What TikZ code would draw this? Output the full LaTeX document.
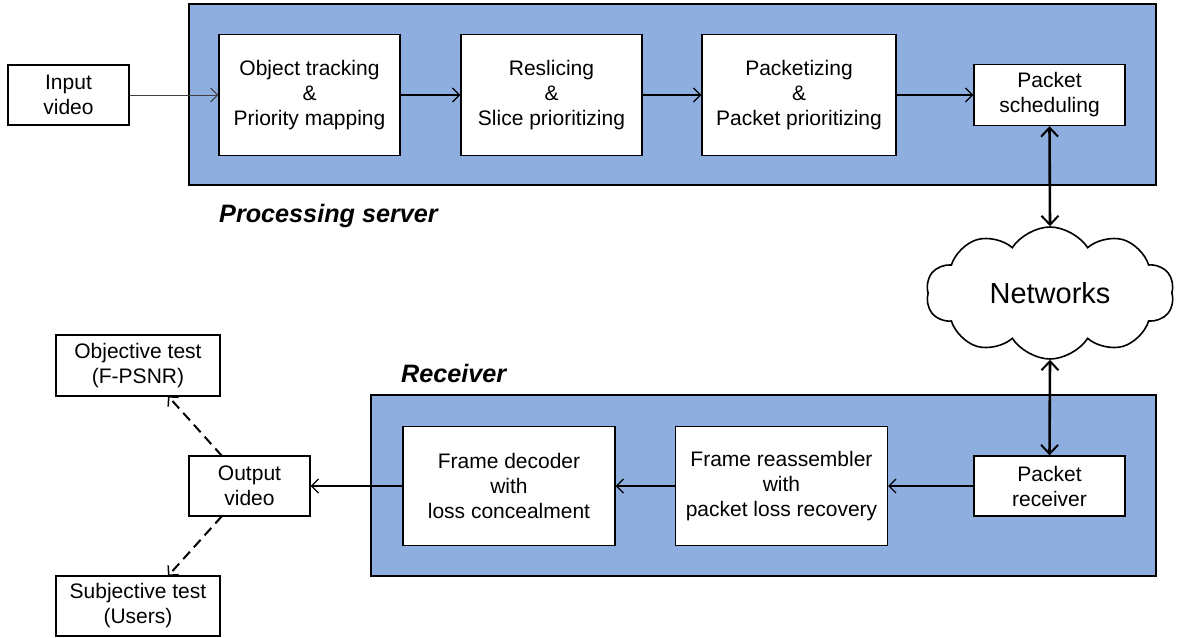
\documentclass[tikz,border=0pt]{standalone}
\usepackage{fontspec}
\setmainfont{Liberation Sans}
\usetikzlibrary{arrows.meta,shapes.symbols}
\definecolor{panelblue}{RGB}{141,174,222}
\begin{document}
\begin{tikzpicture}[x=1pt,y=-1pt,
  font=\fontsize{21}{25}\selectfont,
  panel/.style={draw=black,line width=1.4pt,fill=panelblue},
  blk/.style={draw=black,line width=1.4pt,fill=white,align=center,inner sep=0pt},
  flow/.style={line width=1.3pt,-{Straight Barb[length=7pt,width=14pt,line width=1.2pt]}},
  thinflow/.style={line width=0.8pt,draw=black!75,-{Straight Barb[length=7pt,width=14pt,line width=1pt]}},
  bidir/.style={line width=2.6pt,{Straight Barb[length=9pt,width=17pt,line width=2pt]}-{Straight Barb[length=9pt,width=17pt,line width=2pt]}},
  dflow/.style={line width=2pt,dash pattern=on 10pt off 6pt,-{Straight Barb[length=7pt,width=14pt,line width=1.5pt]}},
  lbl/.style={font=\fontsize{25.2}{29}\selectfont\bfseries\itshape,anchor=west,inner sep=0pt}
]
\useasboundingbox (0,0) rectangle (1191,637);
% panels
\draw[panel] (189,4) rectangle (1156,185);
\draw[panel] (371,395) rectangle (1156,576);
% top row
\node[blk,minimum width=121pt,minimum height=60pt] (in) at (68.5,95) {Input\\video};
\node[blk,minimum width=181pt,minimum height=121pt] (ot) at (309.5,95) {Object tracking\\\&\\Priority mapping};
\node[blk,minimum width=181pt,minimum height=121pt] (rs) at (551.5,95) {Reslicing\\\&\\Slice prioritizing};
\node[blk,minimum width=194pt,minimum height=121pt] (pk) at (799,95) {Packetizing\\\&\\Packet prioritizing};
\node[blk,minimum width=151pt,minimum height=61pt] (ps) at (1049.5,95) {Packet\\scheduling};
% cloud
\node[cloud,draw=black,line width=1.6pt,fill=white,cloud puffs=10,cloud puff arc=115,aspect=1.9,minimum width=248pt,minimum height=132pt,inner sep=0pt,font=\fontsize{29}{34}\selectfont] (net) at (1050,293) {Networks};
% receiver row
\node[blk,minimum width=151pt,minimum height=60pt] (pr) at (1049.5,486) {Packet\\receiver};
\node[blk,minimum width=212pt,minimum height=119pt] (fr) at (781.5,486) {Frame reassembler\\with\\packet loss recovery};
\node[blk,minimum width=212pt,minimum height=119pt] (fd) at (509,486) {Frame decoder\\with\\loss concealment};
\node[blk,minimum width=121pt,minimum height=60pt] (ov) at (249.5,486) {Output\\video};
\node[blk,minimum width=164pt,minimum height=61pt] (obj) at (138,365.5) {Objective test\\(F-PSNR)};
\node[blk,minimum width=164pt,minimum height=60pt] (sub) at (138,606) {Subjective test\\(Users)};
% labels
\node[lbl] (lps) at (219,216) {Processing server};
\node[lbl] (lrc) at (401,373) {Receiver};
% connectors
\draw[thinflow] (in) -- (ot);
\draw[flow] (ot) -- (rs);
\draw[flow] (rs) -- (pk);
\draw[flow] (pk) -- (ps);
\draw[bidir] (ps.south) -- (net.north);
\draw[bidir] (net.south) -- (pr.north);
\draw[flow] (pr) -- (fr);
\draw[flow] (fr) -- (fd);
\draw[flow] (fd) -- (ov);
\coordinate (ovt) at (222,456);
\coordinate (ovb) at (222,516);
\coordinate (objb) at (168,396);
\coordinate (subt) at (168,576);
\draw[dflow] (ovt) -- (objb);
\draw[dflow] (ovb) -- (subt);
\end{tikzpicture}
\end{document}
